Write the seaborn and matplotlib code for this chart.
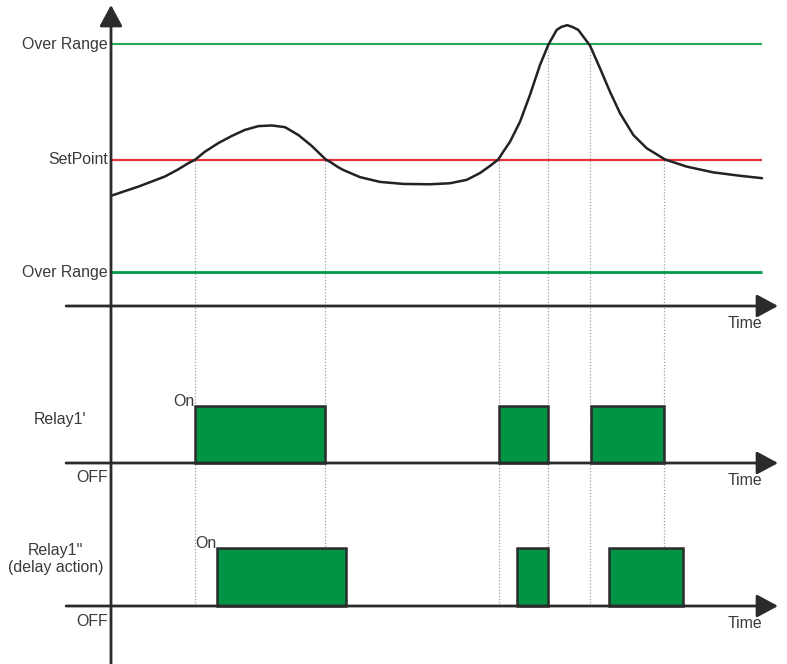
import matplotlib
matplotlib.use('Agg')
import matplotlib.pyplot as plt
import pandas as pd
import seaborn as sns

# process value (time 0..100, level in diagram units)
curve_t = [0, 2.15, 4.19, 6.25, 8.29, 10.34, 11.87, 12.9, 14.44, 16.48, 18.54, 20.58,
           22.63, 24.68, 26.73, 28.77, 30.83, 32.98, 33.64, 34.92, 35.68, 38.25, 41.32,
           44.9, 49.0, 52.07, 54.64, 56.68, 58.22, 59.49, 60.26, 61.29, 62.83, 64.36,
           65.9, 67.17, 68.46, 69.2, 70.09, 70.97, 71.78, 73.58, 75.12, 76.65, 78.19,
           80.23, 82.29, 85.1, 88.43, 92.52, 96.62, 100]
curve_v = [32.4, 33.8, 35.1, 36.6, 38.1, 40.2, 42.0, 43.0, 45.4, 47.9, 50.0, 51.8,
           52.9, 53.1, 52.6, 50.3, 47.1, 43.1, 42.4, 40.8, 40.0, 37.9, 36.5,
           35.9, 35.8, 36.1, 37.1, 39.1, 41.2, 43.1, 45.4, 48.3, 54.2, 62.1,
           70.9, 76.8, 81.2, 82.1, 82.6, 82.0, 81.2, 76.6, 69.9, 63.0, 56.7,
           50.3, 46.4, 43.1, 41.0, 39.3, 38.3, 37.6]

over_range_high = 77
setpoint = 43
over_range_low = 10

# moments where the signal crosses a threshold, and the level it crosses
cross_t = [12.9, 32.87, 59.6, 67.13, 73.58, 84.95]
cross_level = [43, 43, 43, 77, 77, 43]

# relay on-intervals (start, end)
relay1_on = [(12.9, 32.87), (59.6, 67.13), (73.73, 84.95)]
relay2_on = [(16.28, 36.1), (62.37, 67.13), (76.5, 87.86)]

sns.set_theme(style='white')
plt.rcParams['font.family'] = ['Liberation Sans', 'DejaVu Sans']

TXT = dict(fontsize=11.4, color='#3a3a3a')
AX_COL = '#2b2b2b'
GREEN = '#009444'
DOT = dict(color='#a0a0a0', lw=0.9, linestyles=(0, (1, 1.5)), zorder=1)
ARROW = dict(arrowstyle='-|>,head_length=0.5,head_width=0.27', mutation_scale=26,
             lw=2.0, color=AX_COL, shrinkA=0, shrinkB=0)
XLIM = (-17.05, 103.84)

fig = plt.figure(figsize=(7.87, 6.64), dpi=100)
fig.patch.set_facecolor('white')


def panel(top_px, bottom_px, ylim):
    ax = fig.add_axes([0, 1 - bottom_px / 664, 1, (bottom_px - top_px) / 664])
    ax.set_facecolor('none')
    ax.set_xlim(*XLIM)
    ax.set_ylim(*ylim)
    ax.set_axis_off()
    # time axis with arrow
    ax.annotate('', xy=(102.46, 0), xytext=(-6.9, 0), arrowprops=ARROW,
                annotation_clip=False, zorder=5)
    return ax


# ---- signal panel
ax = panel(0, 340, (-10, 90))
df = pd.DataFrame({'t': curve_t, 'v': curve_v})
ax.hlines(over_range_high, 0, 100, color='#1faa5a', lw=1.5, zorder=2)
ax.hlines(setpoint, 0, 100, color='#e5323c', lw=1.6, zorder=2)
ax.hlines(over_range_low, 0, 100, color='#00994c', lw=2.0, zorder=2)
sns.lineplot(data=df, x='t', y='v', ax=ax, color='#222222', lw=1.8,
             estimator=None, sort=False, zorder=3)
ax.set_axis_off()
for t, lv in zip(cross_t, cross_level):
    ax.vlines(t, -10, lv, **DOT)
ax.text(-0.46, over_range_high, 'Over Range', ha='right', va='center', **TXT)
ax.text(-0.46, setpoint, 'SetPoint', ha='right', va='center', **TXT)
ax.text(-0.46, over_range_low, 'Over Range', ha='right', va='center', **TXT)
ax.text(100, -5, 'Time', ha='right', va='center', **TXT)

# ---- relay panels
for (top, bot, ylim, on, label, lab_xy) in [
        (340, 500, (-0.649, 2.158), relay1_on, "Relay1'", (-7.83, 0.77)),
        (500, 664, (-1.0, 1.828), relay2_on, "Relay1''\n(delay action)", (-8.45, 0.81))]:
    ax = panel(top, bot, ylim)
    starts = [s for s, e in on]
    widths = [e - s for s, e in on]
    ax.bar(starts, 1, width=widths, align='edge', color=GREEN,
           edgecolor=AX_COL, lw=1.8, zorder=3)
    for t in cross_t:
        ax.vlines(t, ylim[0] if top == 340 else 0, ylim[1], **DOT)
    ax.text(lab_xy[0], lab_xy[1], label, ha='center', va='center',
            multialignment='center', linespacing=1.1, **TXT)
    ax.text(starts[0], 1.0, 'On', ha='right', va='baseline', **TXT)
    ax.text(-0.46, -0.26, 'OFF', ha='right', va='center', **TXT)
    ax.text(100, -0.3, 'Time', ha='right', va='center', **TXT)

# vertical value axis through all panels
ax.annotate('', xy=(0, 1 - 5 / 664), xycoords=('data', 'figure fraction'),
            xytext=(0, 0), textcoords=('data', 'figure fraction'),
            arrowprops=ARROW, annotation_clip=False, zorder=6)

fig.savefig('out.png', dpi=100)
